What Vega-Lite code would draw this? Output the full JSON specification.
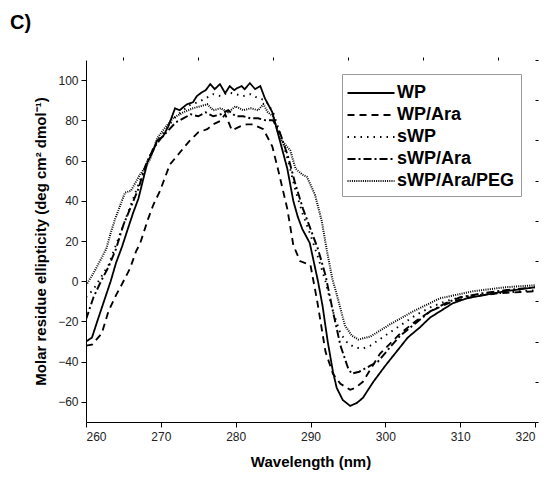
{
  "$schema": "https://vega.github.io/schema/vega-lite/v6.json",
  "width": 449,
  "height": 362,
  "autosize": "none",
  "padding": {"left": 86, "top": 60, "right": 17, "bottom": 60},
  "background": "white",
  "config": {"view": {"stroke": null}, "font": "Liberation Sans"},
  "title": {"text": "C)", "anchor": "start", "frame": "group", "dx": -76, "dy": -20, "fontSize": 20, "fontWeight": "bold", "font": "Liberation Sans", "color": "black"},
  "datasets": {
    "d": [
      {"s":"WP","x":260,"y":-30},{"s":"WP","x":260.8,"y":-28},{"s":"WP","x":261.5,"y":-20},{"s":"WP","x":262.4,"y":-10},{"s":"WP","x":263.3,"y":0},{"s":"WP","x":264,"y":9},{"s":"WP","x":264.8,"y":17},{"s":"WP","x":265.5,"y":25},{"s":"WP","x":266.3,"y":34},{"s":"WP","x":267,"y":41},{"s":"WP","x":267.6,"y":50},{"s":"WP","x":268.2,"y":59},{"s":"WP","x":269,"y":65},{"s":"WP","x":269.5,"y":70},{"s":"WP","x":270.3,"y":72},{"s":"WP","x":271,"y":77},{"s":"WP","x":271.9,"y":86},{"s":"WP","x":272.5,"y":85},{"s":"WP","x":273.5,"y":88},{"s":"WP","x":274.3,"y":89},{"s":"WP","x":274.8,"y":92},{"s":"WP","x":275.5,"y":94},{"s":"WP","x":276,"y":95},{"s":"WP","x":276.6,"y":98},{"s":"WP","x":277.2,"y":95.5},{"s":"WP","x":277.9,"y":98},{"s":"WP","x":278.6,"y":93.5},{"s":"WP","x":279.2,"y":97},{"s":"WP","x":279.8,"y":95},{"s":"WP","x":280.2,"y":96},{"s":"WP","x":280.8,"y":97},{"s":"WP","x":281.2,"y":95.5},{"s":"WP","x":281.9,"y":98.5},{"s":"WP","x":282.6,"y":95.5},{"s":"WP","x":283.3,"y":97},{"s":"WP","x":283.9,"y":91},{"s":"WP","x":284.9,"y":84},{"s":"WP","x":285.9,"y":70},{"s":"WP","x":286.9,"y":56},{"s":"WP","x":287.7,"y":40},{"s":"WP","x":288.3,"y":32},{"s":"WP","x":288.9,"y":26},{"s":"WP","x":289.9,"y":19},{"s":"WP","x":291,"y":0},{"s":"WP","x":291.6,"y":-12},{"s":"WP","x":292.3,"y":-30},{"s":"WP","x":293,"y":-45},{"s":"WP","x":293.5,"y":-53},{"s":"WP","x":294.3,"y":-59},{"s":"WP","x":295.3,"y":-62},{"s":"WP","x":296.2,"y":-60.5},{"s":"WP","x":297,"y":-58},{"s":"WP","x":298.4,"y":-50},{"s":"WP","x":300,"y":-42},{"s":"WP","x":301.5,"y":-35},{"s":"WP","x":303,"y":-28},{"s":"WP","x":304.6,"y":-23},{"s":"WP","x":306,"y":-18},{"s":"WP","x":307.3,"y":-15},{"s":"WP","x":309,"y":-11},{"s":"WP","x":310.9,"y":-8.5},{"s":"WP","x":313,"y":-7},{"s":"WP","x":316,"y":-5},{"s":"WP","x":320,"y":-3},

      {"s":"WP/Ara","x":260,"y":-32},{"s":"WP/Ara","x":260.8,"y":-31.5},{"s":"WP/Ara","x":262.1,"y":-26},{"s":"WP/Ara","x":263,"y":-15},{"s":"WP/Ara","x":264,"y":-7},{"s":"WP/Ara","x":264.8,"y":-1.5},{"s":"WP/Ara","x":265.9,"y":6.5},{"s":"WP/Ara","x":266.7,"y":15},{"s":"WP/Ara","x":267.2,"y":18.4},{"s":"WP/Ara","x":268.3,"y":31},{"s":"WP/Ara","x":269,"y":38},{"s":"WP/Ara","x":269.9,"y":45},{"s":"WP/Ara","x":271.2,"y":58},{"s":"WP/Ara","x":272.1,"y":62},{"s":"WP/Ara","x":273.2,"y":67},{"s":"WP/Ara","x":273.9,"y":70},{"s":"WP/Ara","x":275,"y":74},{"s":"WP/Ara","x":276.2,"y":75.6},{"s":"WP/Ara","x":277,"y":78},{"s":"WP/Ara","x":277.9,"y":79.6},{"s":"WP/Ara","x":278.6,"y":83},{"s":"WP/Ara","x":279.5,"y":75},{"s":"WP/Ara","x":280.6,"y":77},{"s":"WP/Ara","x":281.5,"y":78},{"s":"WP/Ara","x":282.3,"y":78},{"s":"WP/Ara","x":283.7,"y":75.6},{"s":"WP/Ara","x":284.9,"y":67},{"s":"WP/Ara","x":285.7,"y":55},{"s":"WP/Ara","x":286.9,"y":36},{"s":"WP/Ara","x":287.7,"y":18},{"s":"WP/Ara","x":288.6,"y":10},{"s":"WP/Ara","x":289.3,"y":9},{"s":"WP/Ara","x":290,"y":8},{"s":"WP/Ara","x":290.9,"y":-10},{"s":"WP/Ara","x":292,"y":-35},{"s":"WP/Ara","x":293,"y":-46},{"s":"WP/Ara","x":294,"y":-51},{"s":"WP/Ara","x":295.3,"y":-54},{"s":"WP/Ara","x":296,"y":-53},{"s":"WP/Ara","x":297,"y":-50},{"s":"WP/Ara","x":299.3,"y":-36},{"s":"WP/Ara","x":302,"y":-26},{"s":"WP/Ara","x":304,"y":-20},{"s":"WP/Ara","x":306,"y":-15},{"s":"WP/Ara","x":309,"y":-10},{"s":"WP/Ara","x":312,"y":-7.5},{"s":"WP/Ara","x":315,"y":-6},{"s":"WP/Ara","x":320,"y":-5},

      {"s":"sWP","x":260,"y":-8},{"s":"sWP","x":261,"y":-4},{"s":"sWP","x":262,"y":2},{"s":"sWP","x":263,"y":8},{"s":"sWP","x":264,"y":18},{"s":"sWP","x":265,"y":28},{"s":"sWP","x":266,"y":38},{"s":"sWP","x":267,"y":48},{"s":"sWP","x":268,"y":58},{"s":"sWP","x":269,"y":66},{"s":"sWP","x":270,"y":72},{"s":"sWP","x":271,"y":77},{"s":"sWP","x":272,"y":82},{"s":"sWP","x":273,"y":85},{"s":"sWP","x":274,"y":88},{"s":"sWP","x":275,"y":89},{"s":"sWP","x":276,"y":91},{"s":"sWP","x":277,"y":93},{"s":"sWP","x":278,"y":92},{"s":"sWP","x":279,"y":94},{"s":"sWP","x":280,"y":93},{"s":"sWP","x":281,"y":92},{"s":"sWP","x":282,"y":93},{"s":"sWP","x":283,"y":91},{"s":"sWP","x":284,"y":90},{"s":"sWP","x":285,"y":84},{"s":"sWP","x":286,"y":73},{"s":"sWP","x":287,"y":60},{"s":"sWP","x":288,"y":45},{"s":"sWP","x":289,"y":33},{"s":"sWP","x":290,"y":23},{"s":"sWP","x":291,"y":12},{"s":"sWP","x":292,"y":0},{"s":"sWP","x":293,"y":-15},{"s":"sWP","x":294,"y":-26},{"s":"sWP","x":295,"y":-31},{"s":"sWP","x":296,"y":-33},{"s":"sWP","x":297,"y":-33.5},{"s":"sWP","x":298,"y":-32},{"s":"sWP","x":300,"y":-27},{"s":"sWP","x":302,"y":-22},{"s":"sWP","x":304,"y":-17},{"s":"sWP","x":306,"y":-13},{"s":"sWP","x":308,"y":-10},{"s":"sWP","x":310,"y":-8},{"s":"sWP","x":312,"y":-7},{"s":"sWP","x":315,"y":-6},{"s":"sWP","x":318,"y":-5},{"s":"sWP","x":320,"y":-4.5},

      {"s":"sWP/Ara","x":260,"y":-19},{"s":"sWP/Ara","x":261,"y":-8},{"s":"sWP/Ara","x":262,"y":0},{"s":"sWP/Ara","x":263,"y":7},{"s":"sWP/Ara","x":264,"y":16},{"s":"sWP/Ara","x":265,"y":28},{"s":"sWP/Ara","x":266,"y":37},{"s":"sWP/Ara","x":267,"y":46},{"s":"sWP/Ara","x":268,"y":58},{"s":"sWP/Ara","x":269,"y":66},{"s":"sWP/Ara","x":270,"y":71},{"s":"sWP/Ara","x":271,"y":75},{"s":"sWP/Ara","x":272,"y":79},{"s":"sWP/Ara","x":273,"y":81},{"s":"sWP/Ara","x":274,"y":83},{"s":"sWP/Ara","x":275,"y":82},{"s":"sWP/Ara","x":276,"y":84},{"s":"sWP/Ara","x":277,"y":82},{"s":"sWP/Ara","x":278,"y":83},{"s":"sWP/Ara","x":279,"y":85},{"s":"sWP/Ara","x":280,"y":82},{"s":"sWP/Ara","x":281,"y":82},{"s":"sWP/Ara","x":282,"y":81},{"s":"sWP/Ara","x":283,"y":81},{"s":"sWP/Ara","x":284,"y":80},{"s":"sWP/Ara","x":285,"y":80},{"s":"sWP/Ara","x":286,"y":73},{"s":"sWP/Ara","x":287,"y":62},{"s":"sWP/Ara","x":288,"y":48},{"s":"sWP/Ara","x":289,"y":36},{"s":"sWP/Ara","x":290,"y":26},{"s":"sWP/Ara","x":291,"y":16},{"s":"sWP/Ara","x":292,"y":3},{"s":"sWP/Ara","x":293,"y":-15},{"s":"sWP/Ara","x":294,"y":-32},{"s":"sWP/Ara","x":295,"y":-43},{"s":"sWP/Ara","x":295.5,"y":-46},{"s":"sWP/Ara","x":296.5,"y":-45},{"s":"sWP/Ara","x":298,"y":-42},{"s":"sWP/Ara","x":299,"y":-40},{"s":"sWP/Ara","x":300.6,"y":-33},{"s":"sWP/Ara","x":302,"y":-27},{"s":"sWP/Ara","x":304,"y":-21},{"s":"sWP/Ara","x":306,"y":-15},{"s":"sWP/Ara","x":308,"y":-11},{"s":"sWP/Ara","x":310,"y":-8},{"s":"sWP/Ara","x":313,"y":-6},{"s":"sWP/Ara","x":316,"y":-4.5},{"s":"sWP/Ara","x":320,"y":-3},

      {"s":"sWP/Ara/PEG","x":260,"y":-2},{"s":"sWP/Ara/PEG","x":261,"y":4},{"s":"sWP/Ara/PEG","x":262,"y":11},{"s":"sWP/Ara/PEG","x":262.7,"y":16},{"s":"sWP/Ara/PEG","x":263.3,"y":24},{"s":"sWP/Ara/PEG","x":263.9,"y":31},{"s":"sWP/Ara/PEG","x":264.6,"y":38},{"s":"sWP/Ara/PEG","x":265.2,"y":44},{"s":"sWP/Ara/PEG","x":266,"y":45},{"s":"sWP/Ara/PEG","x":266.6,"y":49},{"s":"sWP/Ara/PEG","x":267.2,"y":53},{"s":"sWP/Ara/PEG","x":268,"y":57},{"s":"sWP/Ara/PEG","x":268.6,"y":61},{"s":"sWP/Ara/PEG","x":269.5,"y":71},{"s":"sWP/Ara/PEG","x":270.5,"y":76},{"s":"sWP/Ara/PEG","x":271.6,"y":81},{"s":"sWP/Ara/PEG","x":273,"y":84},{"s":"sWP/Ara/PEG","x":274.3,"y":86},{"s":"sWP/Ara/PEG","x":275.3,"y":87},{"s":"sWP/Ara/PEG","x":276.2,"y":88},{"s":"sWP/Ara/PEG","x":277,"y":85},{"s":"sWP/Ara/PEG","x":278,"y":86},{"s":"sWP/Ara/PEG","x":279,"y":84},{"s":"sWP/Ara/PEG","x":280,"y":87},{"s":"sWP/Ara/PEG","x":281,"y":85},{"s":"sWP/Ara/PEG","x":282,"y":86},{"s":"sWP/Ara/PEG","x":283,"y":85},{"s":"sWP/Ara/PEG","x":283.7,"y":88},{"s":"sWP/Ara/PEG","x":284.3,"y":84},{"s":"sWP/Ara/PEG","x":285,"y":82},{"s":"sWP/Ara/PEG","x":285.9,"y":71},{"s":"sWP/Ara/PEG","x":286.6,"y":68},{"s":"sWP/Ara/PEG","x":287.3,"y":65},{"s":"sWP/Ara/PEG","x":288,"y":56},{"s":"sWP/Ara/PEG","x":288.9,"y":53},{"s":"sWP/Ara/PEG","x":289.5,"y":52},{"s":"sWP/Ara/PEG","x":290,"y":48},{"s":"sWP/Ara/PEG","x":290.6,"y":43},{"s":"sWP/Ara/PEG","x":291.5,"y":30},{"s":"sWP/Ara/PEG","x":292.2,"y":15},{"s":"sWP/Ara/PEG","x":292.9,"y":1.5},{"s":"sWP/Ara/PEG","x":293.5,"y":-6.5},{"s":"sWP/Ara/PEG","x":294.6,"y":-22},{"s":"sWP/Ara/PEG","x":295.5,"y":-27},{"s":"sWP/Ara/PEG","x":296.4,"y":-29},{"s":"sWP/Ara/PEG","x":298,"y":-27.5},{"s":"sWP/Ara/PEG","x":300.6,"y":-21.5},{"s":"sWP/Ara/PEG","x":303.7,"y":-15},{"s":"sWP/Ara/PEG","x":307.3,"y":-8.5},{"s":"sWP/Ara/PEG","x":311.7,"y":-5},{"s":"sWP/Ara/PEG","x":316,"y":-3},{"s":"sWP/Ara/PEG","x":320,"y":-2}
    ]
  },
  "data": {"name": "d"},
  "resolve": {"axis": {"x": "independent", "y": "independent"}},
  "layer": [
    {
      "mark": {"type": "line", "color": "black", "clip": true},
      "encoding": {
        "x": {"field": "x", "type": "quantitative", "scale": {"domain": [260, 320], "nice": false, "zero": false},
          "axis": {"values": [260, 270, 280, 290, 300, 310, 320], "title": "Wavelength (nm)", "grid": false, "domainColor": "black", "tickColor": "black", "tickSize": 5, "labelFontSize": 12, "labelColor": "#222", "labelFont": "Liberation Sans", "labelPadding": 4, "titleFontSize": 15, "titleFont": "Liberation Sans", "titleFontWeight": "bold", "titleColor": "black", "titlePadding": 12}},
        "y": {"field": "y", "type": "quantitative", "scale": {"domain": [-70, 110], "nice": false, "zero": false},
          "axis": {"values": [-60, -40, -20, 0, 20, 40, 60, 80, 100], "title": "Molar residue ellipticity (deg cm² dmol⁻¹)", "grid": false, "domainColor": "black", "tickColor": "black", "tickSize": 5, "labelFontSize": 12, "labelColor": "#222", "labelFont": "Liberation Sans", "labelPadding": 3, "titleFontSize": 15, "titleFont": "Liberation Sans", "titleFontWeight": "bold", "titleColor": "black", "titlePadding": 9}},
        "detail": {"field": "s"},
        "strokeDash": {"field": "s", "type": "nominal", "title": null,
          "scale": {"domain": ["WP", "WP/Ara", "sWP", "sWP/Ara", "sWP/Ara/PEG"], "range": [[1, 0], [7, 5], [1.5, 5], [8, 3, 2, 3], [1, 1.2]]},
          "legend": {"orient": "none", "legendX": 256, "legendY": 14, "symbolType": "M-2,0H2", "symbolSize": 552, "symbolStrokeColor": "black", "symbolStrokeWidth": 2, "labelFontSize": 18, "labelFontWeight": "bold", "labelFont": "Liberation Sans", "labelColor": "black", "rowPadding": 0, "strokeColor": "#999", "padding": 6, "labelOffset": 13, "symbolOffset": 10, "labelLimit": 200}},
        "strokeWidth": {"field": "s", "type": "nominal", "legend": null,
          "scale": {"domain": ["WP", "WP/Ara", "sWP", "sWP/Ara", "sWP/Ara/PEG"], "range": [1.8, 2, 1.6, 2, 1.2]}}
      }
    },
    {
      "mark": {"type": "line", "strokeOpacity": 0},
      "encoding": {
        "x": {"field": "x", "type": "quantitative", "scale": {"domain": [260, 320], "nice": false, "zero": false},
          "axis": {"values": [265, 275, 285, 295, 305, 315], "labels": false, "domain": false, "title": null, "grid": false, "tickColor": "black", "tickSize": 3}},
        "y": {"field": "y", "type": "quantitative", "scale": {"domain": [-70, 110], "nice": false, "zero": false},
          "axis": {"values": [-70, -50, -30, -10, 10, 30, 50, 70, 90, 110], "labels": false, "domain": false, "title": null, "grid": false, "tickColor": "black", "tickSize": 3}},
        "detail": {"field": "s"}
      }
    }
  ]
}
